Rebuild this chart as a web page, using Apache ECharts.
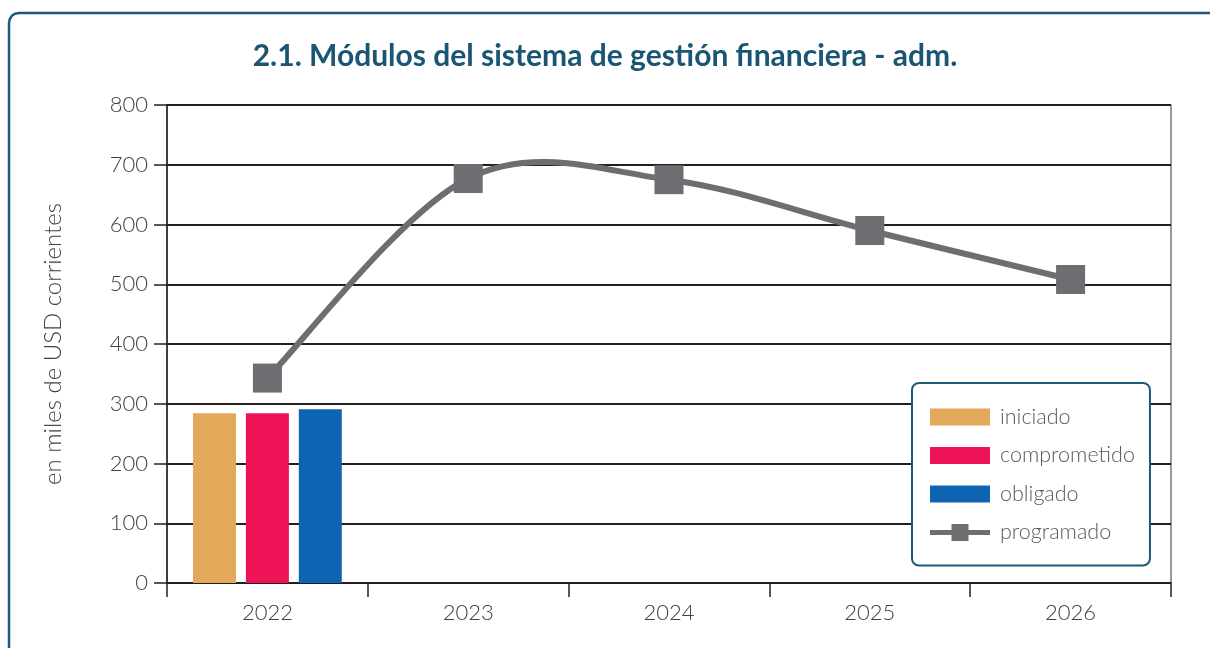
<!DOCTYPE html>
<html>
<head>
    <meta charset="utf-8" />
    <title>Módulos del sistema de gestión financiera</title>
    <script src="https://cdn.jsdelivr.net/npm/echarts@6/dist/echarts.min.js"></script>
    <style>
        body, html {
            margin: 0;
            padding: 0;
            background: #fff;
            overflow: hidden;
        }
        #chart {
            width: 1210px;
            height: 648px;
        }
    </style>
</head>
<body>
<div id="chart"></div>
<script type="text/javascript">
    // datos (miles de USD)
    var years = ['2022', '2023', '2024', '2025', '2026'];
    var iniciado = [284, null, null, null, null];
    var comprometido = [284, null, null, null, null];
    var obligado = [291, null, null, null, null];
    var programado = [343, 677, 675, 590, 508];

    var colors = ['#e4a85a', '#ee1256', '#0f63b3', '#6d6e71'];
    var frameColor = '#1d5a7a';
    var textColor = '#414042';
    var fontFam = 'Lato, "Noto Sans", sans-serif';

    var chart = echarts.init(document.getElementById('chart'));

    function barSeries(name, data, color) {
        return {
            name: name,
            type: 'bar',
            data: data,
            barWidth: 43,
            barGap: '23%',
            itemStyle: { color: color }
        };
    }

    // curva suavizada tipo Excel (catmull-rom), tramo i -> i+1
    function curveSegment(params, api) {
        var i = params.dataIndex;
        var n = programado.length;
        if (i >= n - 1) return null;
        var pt = function (k) {
            k = Math.max(0, Math.min(n - 1, k));
            return api.coord([k, programado[k]]);
        };
        var p0 = pt(i - 1), p1 = pt(i), p2 = pt(i + 1), p3 = pt(i + 2);
        var t = 1 / 6;
        return {
            type: 'bezierCurve',
            shape: {
                x1: p1[0], y1: p1[1],
                x2: p2[0], y2: p2[1],
                cpx1: p1[0] + (p2[0] - p0[0]) * t,
                cpy1: p1[1] + (p2[1] - p0[1]) * t,
                cpx2: p2[0] - (p3[0] - p1[0]) * t,
                cpy2: p2[1] - (p3[1] - p1[1]) * t
            },
            style: { fill: null, stroke: colors[3], lineWidth: 6 }
        };
    }

    var option = {
        animation: false,
        textStyle: { fontFamily: fontFam },
        graphic: [
            {
                // marco del recuadro (solo lados izquierdo y superior visibles)
                type: 'polyline',
                z: -10,
                shape: {
                    points: [[9, 700], [9, 23], [9.8, 19], [12, 15.6], [15, 13.7], [19, 13], [1300, 13]]
                },
                style: { fill: null, stroke: frameColor, lineWidth: 2.5 }
            }
        ],
        title: {
            text: '2.1. Módulos del sistema de gestión financiera - adm.',
            left: 'center',
            top: 36,
            textStyle: {
                fontFamily: fontFam,
                fontSize: 30,
                fontWeight: 'bold',
                color: '#1b5574'
            }
        },
        grid: {
            left: 167,
            right: 39,
            top: 105,
            bottom: 65,
            show: true,
            borderColor: '#58595b',
            borderWidth: 1.2
        },
        legend: {
            orient: 'vertical',
            left: 912,
            top: 383,
            padding: [23, 15, 22, 18],
            itemWidth: 60,
            itemHeight: 17,
            itemGap: 16.5,
            backgroundColor: '#fff',
            borderColor: frameColor,
            borderWidth: 2,
            borderRadius: 7,
            textStyle: {
                fontFamily: fontFam,
                fontSize: 21.5,
                fontWeight: 300,
                color: '#58595b',
                padding: [0, 0, 0, 5]
            },
            data: [
                { name: 'iniciado', icon: 'rect' },
                { name: 'comprometido', icon: 'rect' },
                { name: 'obligado', icon: 'rect' },
                {
                    name: 'programado',
                    icon: 'path://M0,6L60,6L60,11L0,11Z M21.5,0L38.5,0L38.5,17L21.5,17Z',
                    itemStyle: { color: colors[3], opacity: 1 }
                }
            ]
        },
        xAxis: {
            type: 'category',
            data: years,
            boundaryGap: true,
            axisLine: { lineStyle: { color: '#231f20', width: 1.5 } },
            axisTick: { show: true, length: 14, lineStyle: { color: '#231f20', width: 1.5 } },
            axisLabel: {
                fontSize: 22,
                fontWeight: 300,
                color: textColor,
                margin: 19
            }
        },
        yAxis: {
            type: 'value',
            min: 0,
            max: 800,
            interval: 100,
            name: 'en miles de USD corrientes',
            nameLocation: 'middle',
            nameGap: 102,
            nameTextStyle: {
                fontSize: 24,
                fontWeight: 300,
                color: textColor
            },
            axisLine: { show: true, lineStyle: { color: '#231f20', width: 1.5 } },
            axisTick: { show: true, length: 13, lineStyle: { color: '#231f20', width: 1.5 } },
            axisLabel: {
                fontSize: 22,
                fontWeight: 300,
                color: textColor,
                margin: 19
            },
            splitLine: { lineStyle: { color: '#231f20', width: 2 } }
        },
        series: [
            barSeries('iniciado', iniciado, colors[0]),
            barSeries('comprometido', comprometido, colors[1]),
            barSeries('obligado', obligado, colors[2]),
            {
                name: 'programado',
                type: 'line',
                data: programado,
                symbol: 'rect',
                symbolSize: 29,
                z: 6,
                lineStyle: { opacity: 0 },
                itemStyle: { color: colors[3] }
            },
            {
                name: 'programado',
                type: 'custom',
                z: 5,
                renderItem: curveSegment,
                encode: { x: 0, y: 1 },
                data: programado.map(function (v, i) { return [i, v]; })
            }
        ]
    };

    chart.setOption(option);
</script>
</body>
</html>
